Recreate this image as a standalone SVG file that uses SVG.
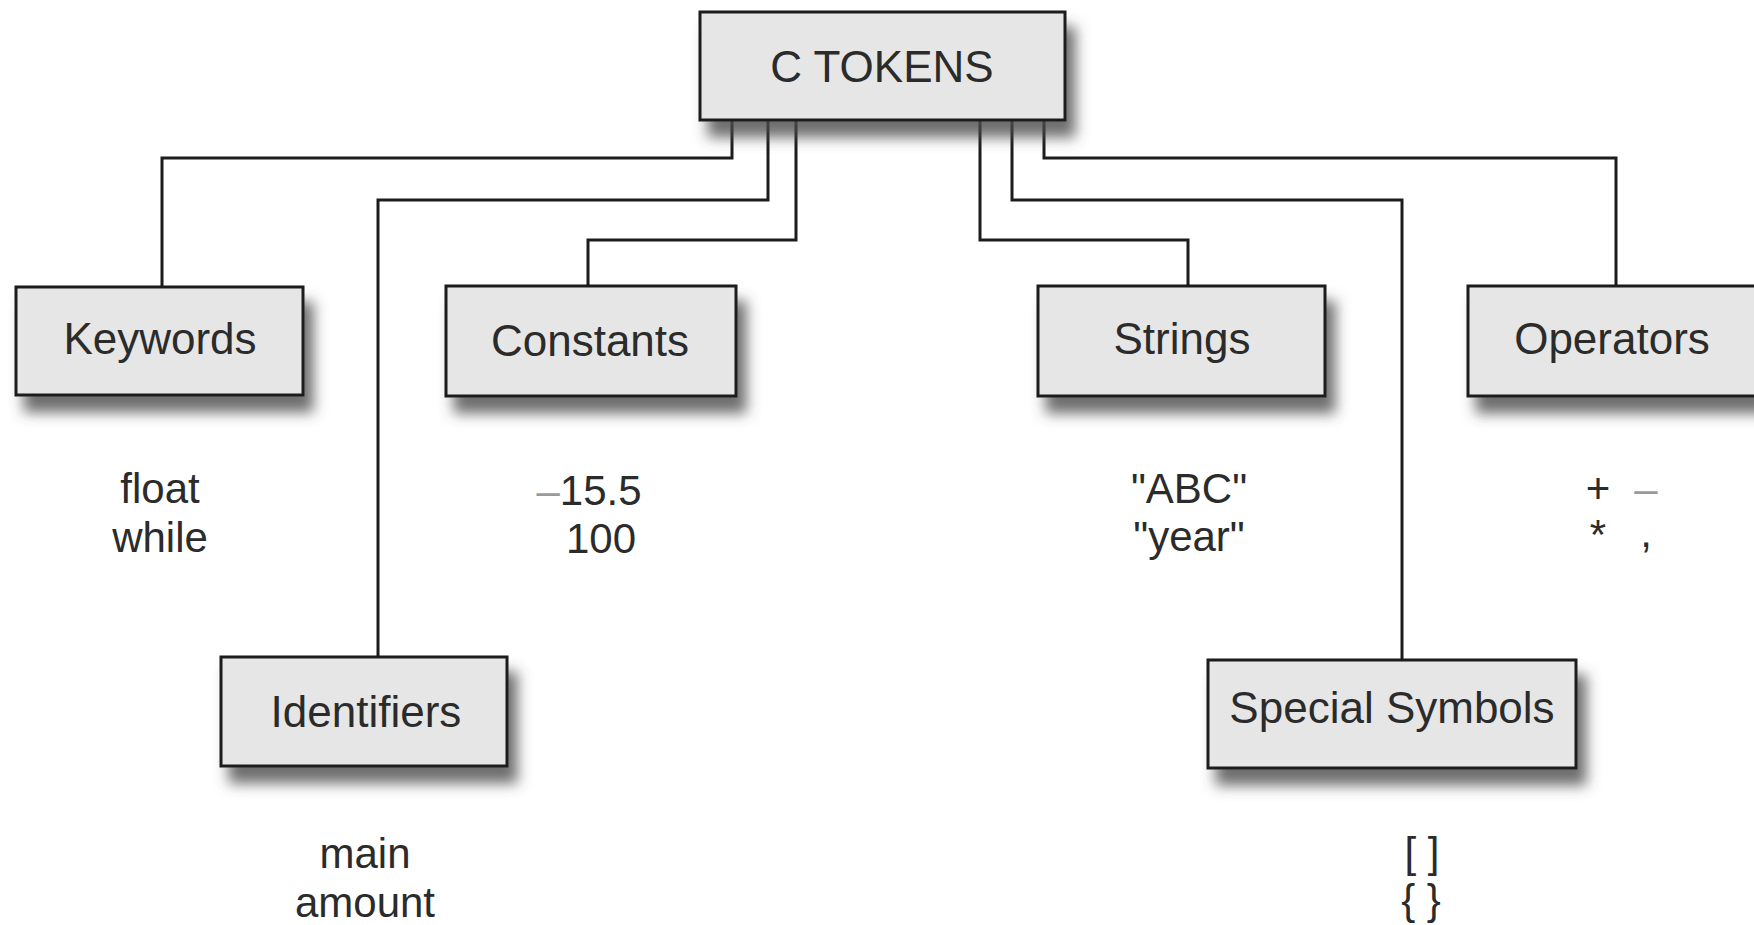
<svg xmlns="http://www.w3.org/2000/svg" width="1754" height="925" viewBox="0 0 1754 925">
  <defs>
    <filter id="drop" x="-10%" y="-10%" width="130%" height="160%">
      <feOffset in="SourceAlpha" dx="9" dy="16" result="off"/>
      <feGaussianBlur in="off" stdDeviation="7" result="blur"/>
      <feFlood flood-color="#4a4a4a" flood-opacity="0.8"/>
      <feComposite in2="blur" operator="in" result="shadow"/>
      <feMerge>
        <feMergeNode in="shadow"/>
        <feMergeNode in="SourceGraphic"/>
      </feMerge>
    </filter>
  </defs>
  <style>
    .box { fill: #e6e6e6; stroke: #1c1c1c; stroke-width: 3; }
    .lbl { font-family: "Liberation Sans", Arial, sans-serif; font-size: 44px; fill: #2b2b2b; text-anchor: middle; }
    .ex { font-family: "Liberation Sans", Arial, sans-serif; font-size: 42px; fill: #2b2b2b; text-anchor: middle; }
    .dim { fill: #9a9a9a; }
    .wire { fill: none; stroke: #1c1c1c; stroke-width: 3; }
  </style>
  <rect width="1754" height="925" fill="#ffffff"/>

  <!-- tree connectors -->
  <g id="connectors">
    <path class="wire" d="M732,120 V158 H162 V287"/>
    <path class="wire" d="M768,120 V200 H378 V657"/>
    <path class="wire" d="M796,120 V240 H588 V286"/>
    <path class="wire" d="M980,120 V240 H1188 V286"/>
    <path class="wire" d="M1012,120 V200 H1402 V660"/>
    <path class="wire" d="M1044,120 V158 H1616 V286"/>
  </g>

  <g id="root">
    <rect class="box" x="700" y="12" width="365" height="108" filter="url(#drop)"/>
    <text class="lbl" x="882" y="82">C TOKENS</text>
  </g>

  <g id="keywords">
    <rect class="box" x="16" y="287" width="287" height="108" filter="url(#drop)"/>
    <text class="lbl" x="160" y="354">Keywords</text>
    <text class="ex" x="160" y="503">float</text>
    <text class="ex" x="160" y="552">while</text>
  </g>

  <g id="constants">
    <rect class="box" x="446" y="286" width="290" height="110" filter="url(#drop)"/>
    <text class="lbl" x="590" y="356">Constants</text>
    <text class="ex" x="589" y="505"><tspan class="dim">–</tspan>15.5</text>
    <text class="ex" x="601" y="553">100</text>
  </g>

  <g id="strings">
    <rect class="box" x="1038" y="286" width="287" height="110" filter="url(#drop)"/>
    <text class="lbl" x="1182" y="354">Strings</text>
    <text class="ex" x="1189" y="503">"ABC"</text>
    <text class="ex" x="1189" y="551">"year"</text>
  </g>

  <g id="operators">
    <rect class="box" x="1468" y="286" width="290" height="110" filter="url(#drop)"/>
    <text class="lbl" x="1612" y="354">Operators</text>
    <text class="ex" x="1598" y="503">+</text>
    <text class="ex dim" x="1646" y="503" font-size="36">–</text>
    <text class="ex" x="1598" y="549" font-size="32">*</text>
    <text class="ex" x="1646" y="547" font-size="24">,</text>
  </g>

  <g id="identifiers">
    <rect class="box" x="221" y="657" width="286" height="109" filter="url(#drop)"/>
    <text class="lbl" x="366" y="727">Identifiers</text>
    <text class="ex" x="365" y="868">main</text>
    <text class="ex" x="365" y="917">amount</text>
  </g>

  <g id="special-symbols">
    <rect class="box" x="1208" y="660" width="368" height="108" filter="url(#drop)"/>
    <text class="lbl" x="1392" y="723">Special Symbols</text>
    <text class="ex" x="1422" y="867" font-size="40">[ ]</text>
    <text class="ex" x="1421" y="914" font-size="40">{ }</text>
  </g>
</svg>
